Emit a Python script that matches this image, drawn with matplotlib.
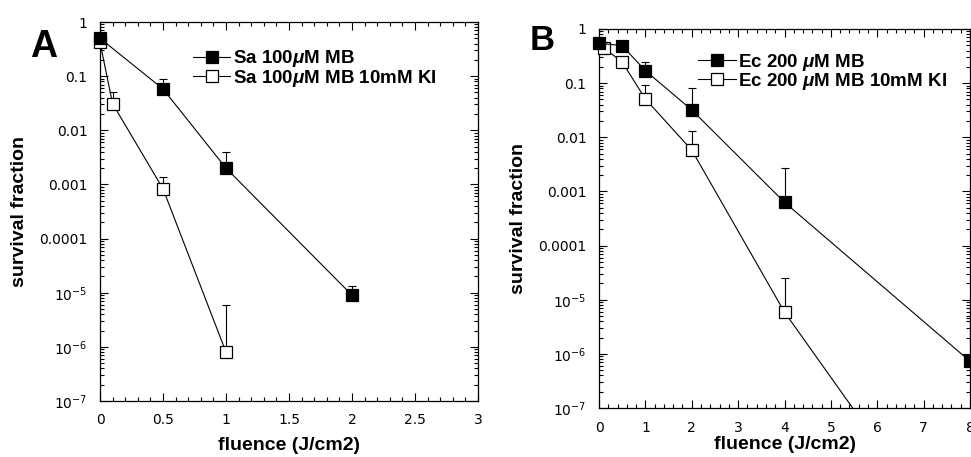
import matplotlib
matplotlib.use("Agg")
import matplotlib.pyplot as plt
from matplotlib.ticker import MultipleLocator, LogLocator, NullFormatter
import numpy as np

# ---- data ----
a_fill_x = [0, 0.5, 1, 2]
a_fill_y = [0.5, 0.058, 0.002, 9e-6]
a_fill_top = [0.5, 0.089, 0.0039, 1.35e-5]

a_open_x = [0, 0.1, 0.5, 1]
a_open_y = [0.42, 0.031, 8.3e-4, 8e-7]
a_open_top = [0.42, 0.051, 0.0014, 6e-6]

b_fill_x = [0, 0.5, 1, 2, 4, 8]
b_fill_y = [0.55, 0.49, 0.17, 0.032, 6.3e-4, 7.3e-7]
b_fill_top = [0.55, 0.49, 0.245, 0.081, 0.0027, 4.6e-6]

b_open_x = [0.1, 0.5, 1, 2, 4, 6]
b_open_y = [0.45, 0.245, 0.051, 0.0058, 5.9e-6, 2.3e-8]
b_open_top = [0.45, 0.245, 0.093, 0.013, 2.5e-5, 2.3e-8]

a_labels = ["Sa 100$\\mathit{\\mu}$M MB", "Sa 100$\\mathit{\\mu}$M MB 10mM KI"]
b_labels = ["Ec 200 $\\mathit{\\mu}$M MB", "Ec 200 $\\mathit{\\mu}$M MB 10mM KI"]

y_ticks = [1e-7, 1e-6, 1e-5, 1e-4, 1e-3, 1e-2, 1e-1, 1]
y_tick_labels = ["10$^{-7}$", "10$^{-6}$", "10$^{-5}$", "0.0001", "0.001", "0.01", "0.1", "1"]
a_xticks = [0, 0.5, 1, 1.5, 2, 2.5, 3]
a_xtick_labels = ["0", "0.5", "1", "1.5", "2", "2.5", "3"]
b_xticks = [0, 1, 2, 3, 4, 5, 6, 7, 8]
b_xtick_labels = ["0", "1", "2", "3", "4", "5", "6", "7", "8"]

plt.rcParams['mathtext.fontset'] = 'custom'
plt.rcParams['mathtext.rm'] = 'Liberation Sans:bold'
plt.rcParams['mathtext.it'] = 'Liberation Sans:bold:italic'
plt.rcParams['mathtext.bf'] = 'Liberation Sans:bold'
plt.rcParams['mathtext.default'] = 'regular'

W, H = 971, 457
fig = plt.figure(figsize=(W / 100, H / 100), dpi=100)

def frac(l, t, r, b):
    return [l / W, (H - b) / H, (r - l) / W, (b - t) / H]

axA = fig.add_axes(frac(100, 22, 478, 401))
axB = fig.add_axes(frac(599, 29, 970, 408))

label_font = dict(family="Liberation Sans", weight="bold", size=14)
leg_font = dict(family="Liberation Sans", weight="bold", size=13.5)

def series(ax, x, y, top, fill, z):
    x = np.array(x, dtype=float); y = np.array(y); top = np.array(top)
    ax.plot(x, y, '-', color='black', lw=0.8, zorder=z)
    ax.errorbar(x, y, yerr=[np.zeros_like(y), top - y], fmt='none',
                ecolor='black', elinewidth=0.8, capsize=3, capthick=0.8, zorder=z)
    m = y >= 1e-7
    ax.plot(x[m], y[m], linestyle='none', marker='s', ms=8,
            mfc='black' if fill else 'white', mec='black', mew=0.9,
            zorder=z + 0.5, clip_on=False)
    h, = ax.plot([], [], '-', color='black', lw=0.8, marker='s', ms=8,
                 mfc='black' if fill else 'white', mec='black', mew=0.9)
    return h

def draw(ax, fx, fy, ftop, ox, oy, otop, labels, xticks, xlabels, xlim, xminor,
         anchor, xlpad):
    ax.set_yscale('log')
    l2 = series(ax, ox, oy, otop, False, 3)
    l1 = series(ax, fx, fy, ftop, True, 4)
    ax.set_xlim(*xlim)
    ax.set_ylim(1e-7, 1)
    ax.set_xticks(xticks)
    ax.set_xticklabels(xlabels)
    ax.xaxis.set_minor_locator(MultipleLocator(xminor))
    ax.set_yticks(y_ticks)
    ax.set_yticklabels(y_tick_labels, fontfamily='DejaVu Sans')
    for t in ax.get_xticklabels():
        t.set_fontfamily('DejaVu Sans')
    ax.yaxis.set_minor_locator(LogLocator(base=10, subs=np.arange(2, 10), numticks=20))
    ax.yaxis.set_minor_formatter(NullFormatter())
    ax.tick_params(which='both', direction='in', top=True, right=True, width=0.8,
                   labelsize=10, colors='black')
    ax.tick_params(which='major', length=6, pad=9)
    ax.tick_params(which='minor', length=3)
    for s in ax.spines.values():
        s.set_linewidth(0.9)
    ax.set_xlabel("fluence (J/cm2)", fontdict=label_font, labelpad=xlpad)
    ax.set_ylabel("survival fraction", fontdict=label_font, labelpad=8)
    ax.legend([l1, l2], labels, loc='upper left', bbox_to_anchor=anchor,
              frameon=False, handlelength=2.0, handletextpad=0.15,
              labelspacing=-0.1, prop=leg_font, borderaxespad=0)

draw(axA, a_fill_x, a_fill_y, a_fill_top, a_open_x, a_open_y, a_open_top,
     a_labels, a_xticks, a_xtick_labels, (0, 3), 0.1, (0.226, 0.95), 7)
draw(axB, b_fill_x, b_fill_y, b_fill_top, b_open_x, b_open_y, b_open_top,
     b_labels, b_xticks, b_xtick_labels, (0, 8), 0.2, (0.247, 0.96), 1)

fig.text(44 / W, 1 - 47 / H, "A", fontsize=27, fontweight='bold',
         family="Liberation Sans", ha='center', va='center')
fig.text(542 / W, 1 - 40 / H, "B", fontsize=25, fontweight='bold',
         family="Liberation Sans", ha='center', va='center')

fig.savefig("out.png", dpi=100)
